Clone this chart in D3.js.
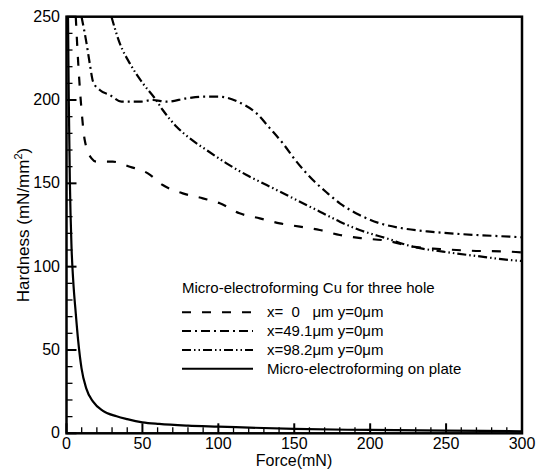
<!DOCTYPE html>
<html>
<head>
<meta charset="utf-8">
<script src="https://cdn.jsdelivr.net/npm/d3@7"></script>
<style>
body { margin: 0; background: #fff; }
text { font-family: "Liberation Sans", Arial, sans-serif; fill: #000; }
</style>
</head>
<body>
<script>
// valeurs : [force (mN), dureté (mN/mm2)]
var trouX0 = [[6.1,250],[7.6,224],[9.9,194],[12,176],[16.5,165],[19.8,163],[30.5,163],[41.7,160],[53.6,156],[63.4,149],[76.6,144],[89.8,141],[101,138],[114,132],[127.3,129],[140.5,126],[153.7,124],[166.8,122],[180,119],[195,117],[210.8,115.6],[228,112],[246,110.6],[265.7,109.6],[292,109],[300,108.5]];
var trouX49 = [[9.9,250],[13.2,234],[15.3,222],[17.5,211],[21.9,206],[28.5,203],[36.2,199],[48.3,199],[56.9,200],[65.9,199],[79,201],[89.8,202],[101,202],[112.8,199],[125.2,192],[134,183],[142.5,174],[151.5,163],[162.3,152],[172,144],[180,138],[193,131],[206.4,126],[221.5,123],[239.3,121],[259,119.6],[292,118],[300,117.6]];
var trouX98 = [[29.6,250],[35.1,234],[41.7,222],[50.3,210],[58.2,201],[63.4,194],[72.5,184],[81.2,177],[92.2,170],[105.4,162],[118.6,155],[131.8,149],[145,143],[158,137],[166.9,133],[180,127],[193,122],[210.8,117],[228,112],[248,109],[270,106.4],[292,104],[300,103.4]];
var plaque = [[1.0,250],[1.5,200],[2.2,152],[3.3,112],[4.4,92],[6.1,72],[7.7,55.5],[9.9,39],[13,27],[17.5,19],[24,13.5],[33,10.2],[40,8.5],[50,6.6],[61,5.6],[80,4.6],[100,4.0],[150,2.6],[200,2.0],[250,1.6],[300,1.2]];

var xTicks = [0, 50, 100, 150, 200, 250, 300];
var yTicks = [0, 50, 100, 150, 200, 250];
var titreLegende = "Micro-electroforming Cu for three hole";
var nomsSeries = ["x=  0   \u03bcm y=0\u03bcm", "x=49.1\u03bcm y=0\u03bcm", "x=98.2\u03bcm y=0\u03bcm", "Micro-electroforming on plate"];
var tirets = ["9,11", "9,4,2,4", "9,3,1.5,3,1.5,3", null];

var W = 543, H = 470;
var gauche = 66.5, droite = 522, haut = 16.7, bas = 433.3;

var svg = d3.select("body").append("svg").attr("width", W).attr("height", H);

var x = d3.scaleLinear().domain([0, 300]).range([gauche, droite]);
var y = d3.scaleLinear().domain([0, 250]).range([bas, haut]);

svg.append("clipPath").attr("id", "zone").append("rect")
    .attr("x", gauche).attr("y", haut).attr("width", droite - gauche).attr("height", bas - haut);

// courbes
var ligne = d3.line().x(function(d){ return x(d[0]); }).y(function(d){ return y(d[1]); }).curve(d3.curveMonotoneX);
var series = [trouX0, trouX49, trouX98, plaque];
series.forEach(function(s, i){
    svg.append("path").datum(s).attr("d", ligne).attr("fill", "none").attr("stroke", "#000")
        .attr("stroke-width", 2.2).attr("stroke-dasharray", tirets[i]).attr("clip-path", "url(#zone)");
});

// graduations (mineures tous les 10)
var xMin = d3.range(0, 301, 10), yMin = d3.range(0, 251, 10);
svg.selectAll(".tx").data(xMin).enter().append("line")
    .attr("x1", function(d){ return x(d); }).attr("x2", function(d){ return x(d); })
    .attr("y1", bas).attr("y2", function(d){ return d % 50 == 0 ? bas - 10 : bas - 6; })
    .attr("stroke", "#000").attr("stroke-width", function(d){ return d % 50 == 0 ? 2 : 1.3; });
svg.selectAll(".ty").data(yMin).enter().append("line")
    .attr("y1", function(d){ return y(d); }).attr("y2", function(d){ return y(d); })
    .attr("x1", gauche).attr("x2", function(d){ return d % 50 == 0 ? gauche + 10 : gauche + 6; })
    .attr("stroke", "#000").attr("stroke-width", function(d){ return d % 50 == 0 ? 2 : 1.3; });

// cadre
svg.append("rect").attr("x", gauche).attr("y", haut).attr("width", droite - gauche).attr("height", bas - haut)
    .attr("fill", "none").attr("stroke", "#000").attr("stroke-width", 2.5);

// étiquettes
svg.selectAll(".lx").data(xTicks).enter().append("text")
    .attr("x", function(d){ return x(d); }).attr("y", 449).attr("text-anchor", "middle")
    .style("font-size", "16px").text(function(d){ return d; });
svg.selectAll(".ly").data(yTicks).enter().append("text")
    .attr("x", 60).attr("y", function(d){ return y(d) + 5; }).attr("text-anchor", "end")
    .style("font-size", "16px").text(function(d){ return d; });

svg.append("text").attr("x", 294).attr("y", 466).attr("text-anchor", "middle")
    .style("font-size", "16px").text("Force(mN)");

var titreY = svg.append("text").attr("transform", "translate(29," + ((haut + bas) / 2) + ") rotate(-90)")
    .attr("text-anchor", "middle").style("font-size", "17px");
titreY.append("tspan").text("Hardness (mN/mm");
titreY.append("tspan").attr("dy", -7).style("font-size", "11px").text("2");
titreY.append("tspan").attr("dy", 7).text(")");

// légende
svg.append("text").attr("x", 182).attr("y", 292.5).style("font-size", "15px").text(titreLegende);
nomsSeries.forEach(function(n, i){
    var yy = 312.3 + i * 18.8;
    svg.append("line").attr("x1", 182).attr("x2", 253).attr("y1", yy).attr("y2", yy)
        .attr("stroke", "#000").attr("stroke-width", 2).attr("stroke-dasharray", tirets[i]);
    svg.append("text").attr("x", 267).attr("y", yy + 5).style("font-size", "15px")
        .attr("xml:space", "preserve").style("white-space", "pre").text(n);
});
</script>
</body>
</html>
